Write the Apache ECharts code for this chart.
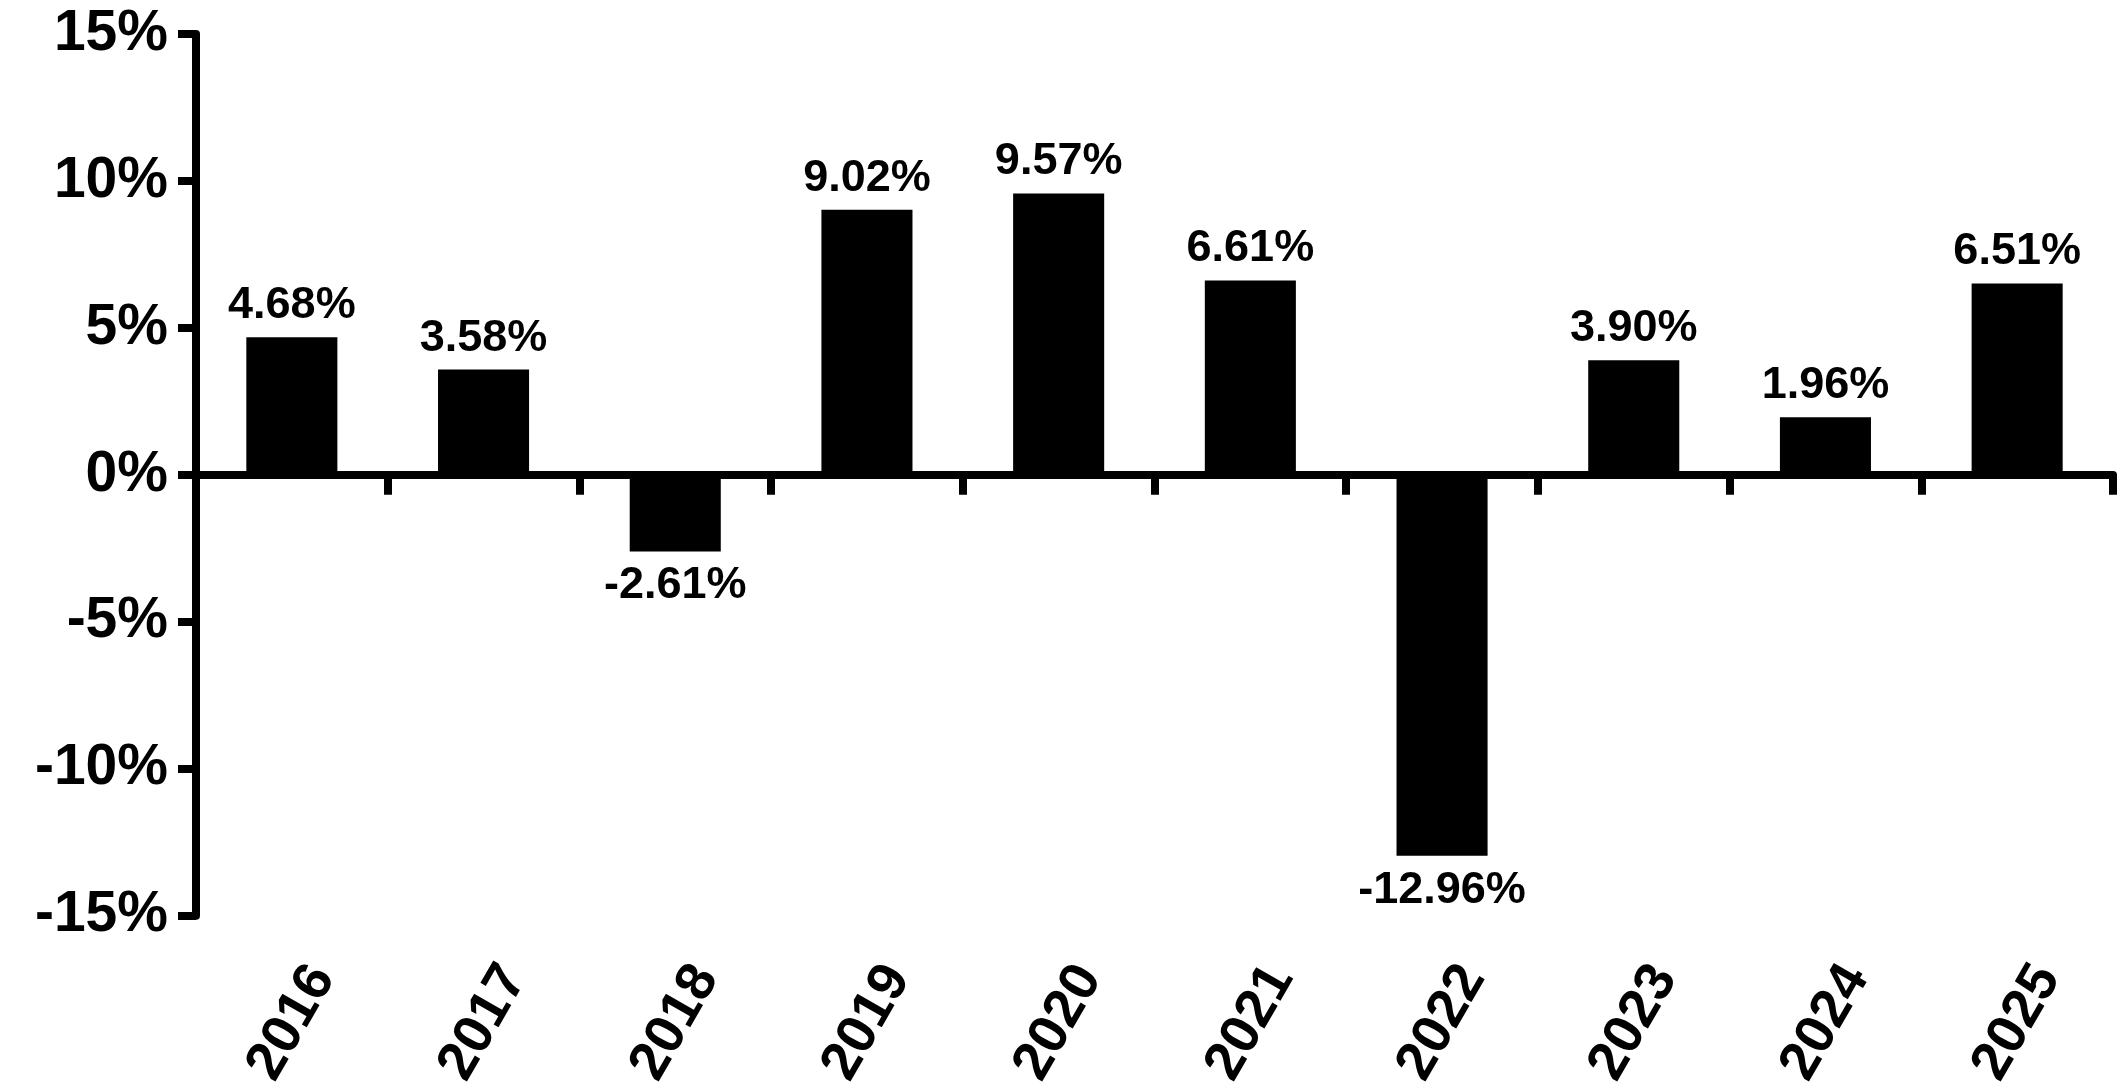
<!DOCTYPE html>
<html>
<head>
<meta charset="utf-8">
<script src="https://cdn.jsdelivr.net/npm/echarts@6/dist/echarts.min.js"></script>
<style>
html,body{margin:0;padding:0;background:#fff;}
#chart{width:2117px;height:1092px;}
</style>
</head>
<body>
<div id="chart"></div>
<script>
var years = ['2016','2017','2018','2019','2020','2021','2022','2023','2024','2025'];
var returns = [4.68, 3.58, -2.61, 9.02, 9.57, 6.61, -12.96, 3.90, 1.96, 6.51];
var yTicks = {min: -15, max: 15, interval: 5};

var chart = echarts.init(document.getElementById('chart'), null, {renderer: 'canvas'});
var FONT = '"Liberation Sans", Arial, Helvetica, sans-serif';

var barData = returns.map(function (v) {
  return {
    value: v,
    label: {position: v >= 0 ? 'top' : 'bottom', distance: v >= 0 ? 9 : 12}
  };
});

chart.setOption({
  animation: false,
  backgroundColor: '#ffffff',
  grid: {left: 196, right: 4, top: 34, bottom: 174, containLabel: false},
  xAxis: [{
    type: 'category',
    data: years,
    boundaryGap: true,
    axisLine: {onZero: true, lineStyle: {color: '#000', width: 8}},
    axisTick: {show: true, length: 20, inside: false, lineStyle: {color: '#000', width: 8}},
    axisLabel: {show: false},
    splitLine: {show: false}
  }, {
    type: 'category',
    data: years,
    position: 'bottom',
    axisLine: {show: false, onZero: false},
    axisTick: {show: false},
    axisLabel: {
      show: true,
      rotate: 60,
      align: 'center',
      verticalAlign: 'middle',
      margin: 107,
      color: '#000',
      fontFamily: FONT,
      fontWeight: 'bold',
      fontSize: 55
    },
    splitLine: {show: false}
  }],
  yAxis: {
    type: 'value',
    min: yTicks.min,
    max: yTicks.max,
    interval: yTicks.interval,
    axisLine: {show: true, lineStyle: {color: '#000', width: 8}},
    axisTick: {show: true, length: 18, lineStyle: {color: '#000', width: 8}},
    axisLabel: {
      formatter: '{value}%',
      margin: 28,
      color: '#000',
      fontFamily: FONT,
      fontWeight: 'bold',
      fontSize: 57
    },
    splitLine: {show: false}
  },
  series: [{
    type: 'bar',
    xAxisIndex: 0,
    data: barData,
    barWidth: '47.5%',
    itemStyle: {color: '#000'},
    label: {
      show: true,
      distance: 9,
      formatter: function (p) { return p.value.toFixed(2) + '%'; },
      color: '#000',
      fontFamily: FONT,
      fontWeight: 'bold',
      fontSize: 45
    }
  }]
});
</script>
</body>
</html>
